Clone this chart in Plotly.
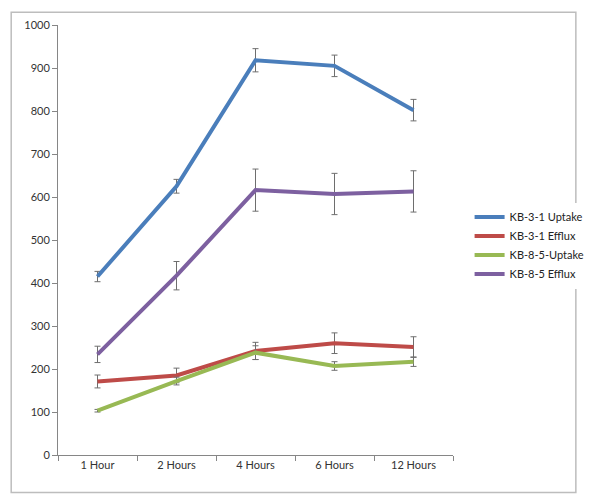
import plotly.graph_objects as go

# Categories and series values
hours = ['1 Hour', '2 Hours', '4 Hours', '6 Hours', '12 Hours']

kb31_uptake = [415, 625, 918, 905, 802]
kb31_uptake_err = [12, 16, 27, 25, 25]

kb31_efflux = [171, 185, 242, 260, 251]
kb31_efflux_err = [15, 17, 20, 24, 24]

kb85_uptake = [103, 172, 238, 207, 217]
kb85_uptake_err = [3, 9, 16, 10, 11]

kb85_efflux = [234, 417, 616, 607, 613]
kb85_efflux_err = [19, 33, 49, 48, 48]

series = [
    ('KB-3-1 Uptake', kb31_uptake, kb31_uptake_err, '#4A7EBB'),
    ('KB-3-1 Efflux', kb31_efflux, kb31_efflux_err, '#BE4B48'),
    ('KB-8-5-Uptake', kb85_uptake, kb85_uptake_err, '#98B954'),
    ('KB-8-5 Efflux', kb85_efflux, kb85_efflux_err, '#7D60A0'),
]

fig = go.Figure()

for name, vals, errs, color in series:
    fig.add_trace(go.Scatter(
        x=hours, y=vals, name=name, mode='lines',
        line=dict(color=color, width=4),
        error_y=dict(type='data', array=errs, visible=True,
                     color='#6e6e6e', thickness=1, width=3),
    ))

# page has an 8px body margin, so the figure is a bit smaller than the window
fig.update_layout(
    width=592, height=493,
    margin=dict(l=50, r=137, t=10, b=46),
    paper_bgcolor='white', plot_bgcolor='white',
    font=dict(family='Lato, Open Sans, sans-serif', size=11, color='#333333'),
    legend=dict(x=1.042, y=0.487, xanchor='left', yanchor='middle',
                font=dict(size=11, color='#222222'), tracegroupgap=0,
                itemwidth=30),
    showlegend=True,
)

fig.update_xaxes(
    type='category', range=[-0.5, 4.5],
    showline=True, linecolor='#868686', linewidth=1,
    ticks='outside', tickson='boundaries', ticklen=5, tickcolor='#868686',
    showgrid=False, zeroline=False,
)
fig.update_yaxes(
    range=[0, 1000], dtick=100,
    showline=True, linecolor='#868686', linewidth=1,
    ticks='outside', ticklen=5, tickcolor='#868686',
    showgrid=False, zeroline=False,
)

# Outer chart border
fig.add_shape(type='rect', xref='paper', yref='paper',
              x0=-0.1185, x1=1.311, y0=-0.087, y1=1.0297,
              line=dict(color='#bdbdbd', width=1.5), layer='below')

fig.write_html("out.html")
